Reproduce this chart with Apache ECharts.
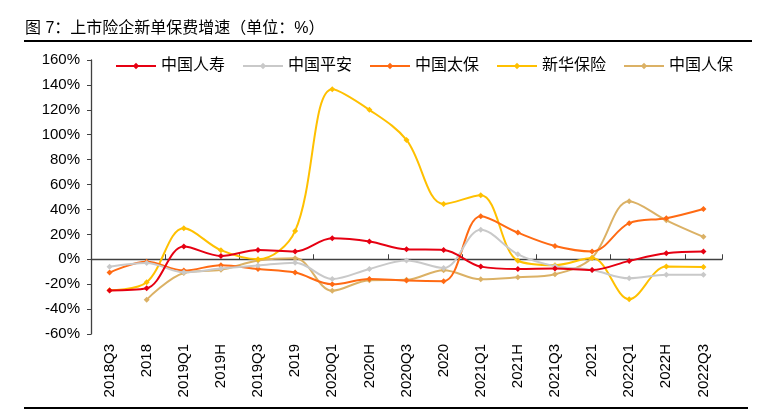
<!DOCTYPE html>
<html>
<head>
<meta charset="utf-8">
<script src="https://cdn.jsdelivr.net/npm/echarts@6/dist/echarts.min.js"></script>
<style>
html,body{margin:0;padding:0;background:#fff;}
#c{width:758px;height:414px;}
</style>
</head>
<body>
<div id="c"></div>
<script>
var categories = ['2018Q3','2018','2019Q1','2019H','2019Q3','2019','2020Q1','2020H','2020Q3','2020','2021Q1','2021H','2021Q3','2021','2022Q1','2022H','2022Q3'];
var yTicks = { min: -60, max: 160, interval: 20 };

var chinaLife   = [-25, -23.3, 10.2, 2.7, 7.5, 6.2, 16.8, 14.3, 8.0, 7.5, -5.9, -7.8, -7.5, -8.6, -1.3, 4.8, 6.2];
var pingAn      = [-6, -3, -10.4, -7.5, -5, -2.7, -15.8, -7.8, -1, -7, 23.8, 4, -5.5, -8.6, -15.3, -12.5, -12.5];
var cpic        = [-10.7, -2, -9, -4.8, -7.8, -10.7, -20.1, -15.8, -17.1, -17.6, 34.5, 21.4, 10.7, 6.3, 29, 33, 40.4];
var newChinaLife= [-24.8, -18.4, 24.9, 7.3, 0, 22.8, 136.5, 120, 95.8, 44.4, 51.4, -1.2, -4.7, 1, -32, -5.9, -6.2];
var picc        = [null, -32.4, -11, -8.4, -1, 0.8, -25.3, -16.8, -16.5, -8.8, -16.1, -14.5, -12, 1.2, 46.6, 31.3, 18];

var seriesNames = ['中国人寿','中国平安','中国太保','新华保险','中国人保'];
var seriesData = [chinaLife, pingAn, cpic, newChinaLife, picc];
var colors = ['#E60012','#C9C9C9','#FF6A13','#FFC000','#DBB165'];

var FONT = '"Liberation Sans", Arial, "Noto Sans CJK SC", sans-serif';
var chart = echarts.init(document.getElementById('c'));

var series = seriesNames.map(function(n, i){
  return {
    name: n, type: 'line', data: seriesData[i], xAxisIndex: 0,
    smooth: 0.35, symbol: 'diamond', symbolSize: 6,
    lineStyle: { width: 2, color: colors[i] },
    itemStyle: { color: colors[i] },
    z: 10 - i
  };
});

chart.setOption({
  animation: false,
  color: colors,
  textStyle: { fontFamily: FONT },
  grid: { left: 91, right: 36, top: 60, bottom: 80, containLabel: false },
  legend: {
    left: 110, top: 53, itemWidth: 40, itemHeight: 8, itemGap: 17,
    textStyle: { fontSize: 16, color: '#000', fontFamily: FONT },
    data: seriesNames
  },
  graphic: [
    { type: 'text', left: 25, top: 21, style: { text: '图 7：上市险企新单保费增速（单位：%）', font: '16px ' + FONT, fill: '#000' } },
    { type: 'line', shape: { x1: 24, y1: 41, x2: 752, y2: 41 }, style: { stroke: '#000', lineWidth: 2 } },
    { type: 'line', shape: { x1: 24, y1: 408, x2: 748, y2: 408 }, style: { stroke: '#000', lineWidth: 2 } }
  ],
  xAxis: [
    {
      type: 'category', data: categories, position: 'bottom',
      axisLine: { show: false, onZero: false }, axisTick: { show: false },
      axisLabel: { rotate: 90, interval: 0, fontSize: 15, color: '#000', margin: 10, fontFamily: FONT }
    },
    {
      type: 'category', data: categories, position: 'top',
      axisLine: { show: true, onZero: true, lineStyle: { color: '#404040', width: 1.3 } },
      axisTick: { show: true, inside: false, length: 5, lineStyle: { color: '#404040' } },
      axisLabel: { show: false }
    }
  ],
  yAxis: {
    type: 'value', min: yTicks.min, max: yTicks.max, interval: yTicks.interval,
    axisLine: { show: true, lineStyle: { color: '#404040', width: 1.3 } },
    axisTick: { show: true, length: 4, lineStyle: { color: '#404040' } },
    splitLine: { show: false },
    axisLabel: { formatter: '{value}%', fontSize: 15, color: '#000', margin: 11, fontFamily: FONT }
  },
  series: series
});
</script>
</body>
</html>
